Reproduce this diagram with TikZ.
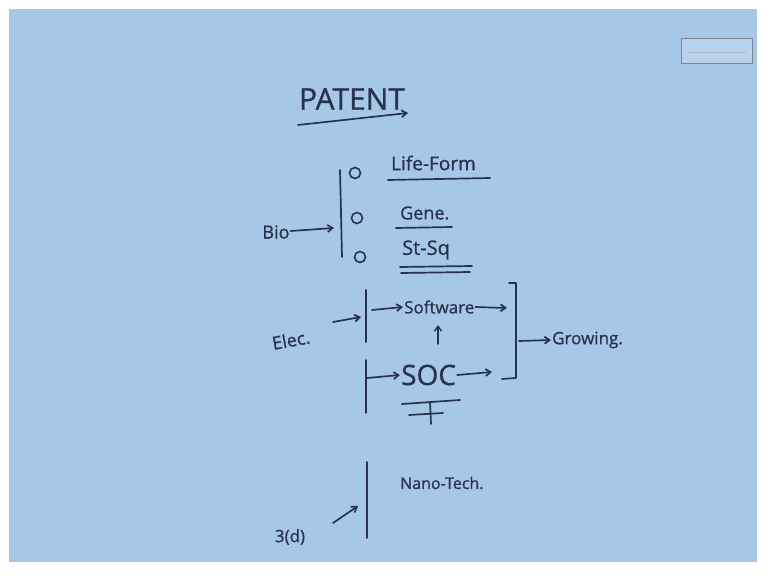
\documentclass[tikz,border=0pt]{standalone}
\usepackage{fontspec}
\setmainfont{Open Sans}[UprightFeatures={FakeBold=0.8}]
\usetikzlibrary{arrows.meta}
\definecolor{board}{HTML}{A6C7E8}
\definecolor{ink}{HTML}{28324A}
\begin{document}
\begin{tikzpicture}[x=1pt,y=-1pt,
  txt/.style={text=ink,inner sep=1pt},
  stroke/.style={draw=ink,line width=1.7pt,line cap=round},
  arr/.style={draw=ink,line width=1.7pt,line cap=round,-{Straight Barb[length=5pt,width=7pt]}},
  dot/.style={circle,draw=ink,line width=1.6pt,minimum size=11pt,inner sep=0pt}]
\useasboundingbox (0,0) rectangle (766,580);
\fill[white] (0,0) rectangle (766,580);
\fill[board] (9,9) rectangle (757,562);
% logo box
\node[draw=ink!60,line width=1pt,fill=board!80!white,minimum width=71pt,minimum height=25pt,inner sep=0pt] (logo) at (717,51) {};
\coordinate (lg1) at (688,52); \coordinate (lg2) at (746,52);
\draw[ink!35,line width=0.8pt] (lg1) -- (lg2);
% title
\node[txt,font=\fontsize{30}{30}\selectfont] (patent) at (352,99) {PATENT};
\coordinate (pa1) at (298,125); \coordinate (pa2) at (408,113);
\draw[arr] (pa1) -- (pa2);
% Bio
\node[txt,font=\fontsize{18}{18}\selectfont] (bio) at (276,232) {Bio};
\coordinate (biotop) at (340,170); \coordinate (biobot) at (342,257);
\draw[stroke] (biotop) -- (biobot);
\coordinate (bioin) at (334,228);
\draw[arr] (bio) -- (bioin);
\node[dot] (c1) at (355,173) {};
\node[dot] (c2) at (357,218) {};
\node[dot] (c3) at (360,257) {};
\node[txt,font=\fontsize{19}{19}\selectfont,anchor=west] (life) at (390,163) {Life-Form};
\coordinate (lu1) at (388,180); \coordinate (lu2) at (490,178);
\draw[stroke] (lu1) -- (lu2);
\node[txt,font=\fontsize{18}{18}\selectfont,anchor=west] (gene) at (399,213) {Gene.};
\coordinate (gu1) at (396,228); \coordinate (gu2) at (452,227);
\draw[stroke] (gu1) -- (gu2);
\node[txt,font=\fontsize{20}{20}\selectfont,anchor=west] (stsq) at (401,250) {St-Sq};
\coordinate (su1) at (400,267); \coordinate (su2) at (472,266);
\coordinate (sv1) at (401,273); \coordinate (sv2) at (470,272);
\draw[stroke] (su1) -- (su2);
\draw[stroke] (sv1) -- (sv2);
% Elec
\node[txt,font=\fontsize{18}{18}\selectfont,rotate=10] (elec) at (291,340) {Elec.};
\coordinate (eb1) at (366,290); \coordinate (eb2) at (366,342);
\coordinate (eb3) at (366,360); \coordinate (eb4) at (366,413);
\draw[stroke] (eb1) -- (eb2);
\draw[stroke] (eb3) -- (eb4);
\coordinate (elin0) at (333,322); \coordinate (elin) at (361,317);
\draw[arr] (elin0) -- (elin);
\coordinate (sw0) at (372,310);
\node[txt,font=\fontsize{17}{17}\selectfont,anchor=west] (soft) at (403,307) {Software};
\draw[arr] (sw0) -- (soft.west);
\coordinate (swout) at (507,308);
\draw[arr] (soft.east) -- (swout);
\coordinate (up0) at (438,344); \coordinate (up1) at (438,325);
\draw[arr,line width=1.4pt] (up0) -- (up1);
\node[txt,font=\fontsize{28}{28}\selectfont,anchor=west] (soc) at (400,375) {SOC};
\coordinate (sc0) at (367,378);
\draw[arr] (sc0) -- (soc.west);
\coordinate (scout) at (492,372);
\draw[arr] (soc.east) -- (scout);
\coordinate (sou1) at (402,404); \coordinate (sou2) at (460,400);
\draw[stroke] (sou1) -- (sou2);
\coordinate (x1) at (409,415); \coordinate (x2) at (443,413);
\coordinate (x3) at (430,402); \coordinate (x4) at (431,424);
\draw[stroke] (x1) -- (x2);
\draw[stroke] (x3) -- (x4);
% bracket
\coordinate (br0) at (509,283); \coordinate (br1) at (516,283);
\coordinate (br2) at (516,378); \coordinate (br3) at (502,379);
\draw[stroke,line join=round] (br0) -- (br1) -- (br2) -- (br3);
\coordinate (gr0) at (519,341);
\node[txt,font=\fontsize{17}{17}\selectfont,anchor=west] (grow) at (551,340) {Growing.};
\draw[arr] (gr0) -- (grow.west);
% third section
\node[txt,font=\fontsize{17}{17}\selectfont] (three) at (290,537) {3(d)};
\coordinate (tb1) at (367,462); \coordinate (tb2) at (367,538);
\draw[stroke] (tb1) -- (tb2);
\coordinate (ta1) at (333,523); \coordinate (ta2) at (358,506);
\draw[arr] (ta1) -- (ta2);
\node[txt,font=\fontsize{16}{16}\selectfont,anchor=west] (nano) at (399,483) {Nano-Tech.};
\end{tikzpicture}
\end{document}
